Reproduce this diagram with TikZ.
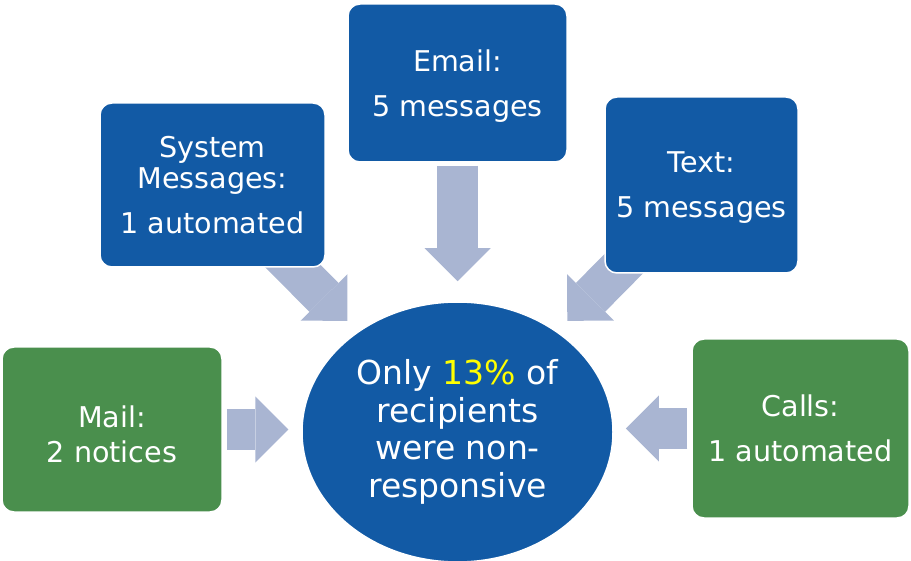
\documentclass[tikz,border=0pt]{standalone}
\usepackage{fontspec}
\setmainfont{DejaVu Sans}
\usetikzlibrary{arrows.meta,shapes.geometric,calc}

\definecolor{boxblue}{RGB}{18,90,165}
\definecolor{boxgreen}{RGB}{74,143,77}
\definecolor{arrowgray}{RGB}{169,181,210}
\definecolor{hiyellow}{RGB}{255,255,0}

\pgfdeclarelayer{background}
\pgfsetlayers{background,main}

\tikzset{
    card/.style={draw=white, line width=1.5pt, rounded corners=12pt, text=white,
        align=center, inner sep=0pt, font=\fontsize{28.6}{31}\selectfont},
    bluecard/.style={card, fill=boxblue},
    greencard/.style={card, fill=boxgreen},
    flow/.style={draw=arrowgray, line width=41pt,
        -{Triangle[length=33pt,width=66pt,line width=0pt]}},
}

\begin{document}
\begin{tikzpicture}[x=1pt, y={(0pt,-1pt)}]
        \useasboundingbox (0,0) rectangle (911,561);

        % centre
        \node[ellipse, fill=boxblue, draw=white, line width=1.5pt, minimum width=311pt,
            minimum height=260pt, inner sep=0pt, text=white, align=center,
            font=\fontsize{33}{37.5}\selectfont] (oval) at (457.5,432)
            {Only \textcolor{hiyellow}{13\%} of\\recipients\\were non-\\responsive};

        % channels
        \node[bluecard, minimum width=219pt, minimum height=158pt] (email) at (457.5,83)
            {\rule{0pt}{27pt}Email:\\[14pt]5 messages};
        \node[bluecard, minimum width=225pt, minimum height=164pt] (sys) at (212.5,185)
            {System\\Messages:\\[14pt]1 automated};
        \node[bluecard, minimum width=193pt, minimum height=176pt] (text) at (701.5,185)
            {\rule{0pt}{25pt}Text:\\[14pt]5 messages};
        \node[greencard, minimum width=220pt, minimum height=165pt] (mail) at (112,429.5)
            {\rule{0pt}{31pt}Mail:\\[4pt]2 notices};
        \node[greencard, minimum width=217pt, minimum height=179pt] (calls) at (800.5,428.5)
            {Calls:\\[14pt]1 automated};

        % arrows
        \begin{pgfonlayer}{background}
            \draw[flow, shorten <=3pt, shorten >=20pt] (email.south) -- (oval.north);
            \draw[flow] ($(sys.center)!0.255!(oval.center)$) -- ($(sys.center)!0.55!(oval.center)$);
            \draw[flow] ($(text.center)!0.255!(oval.center)$) -- ($(text.center)!0.55!(oval.center)$);
            \draw[flow, shorten <=4pt, shorten >=13pt] (mail.east) -- (mail.east -| oval.west);
            \draw[flow, shorten <=4pt, shorten >=12pt] (calls.west) -- (calls.west -| oval.east);
        \end{pgfonlayer}
    \end{tikzpicture}
\end{document}
